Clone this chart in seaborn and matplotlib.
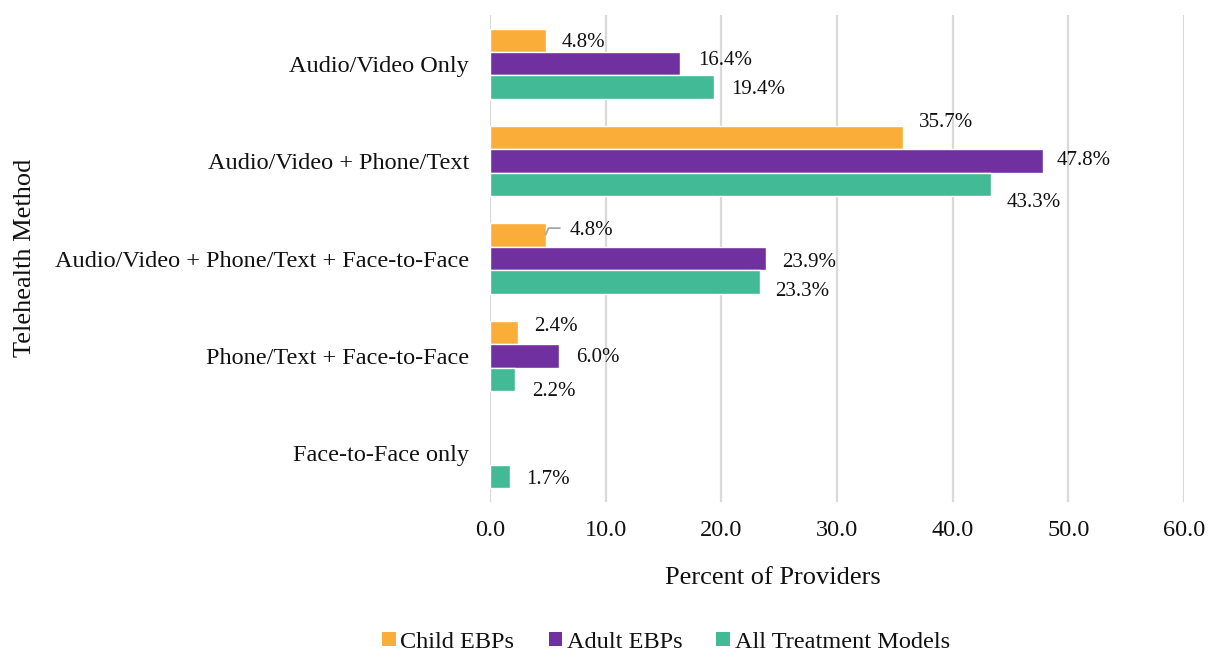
import matplotlib
matplotlib.use("Agg")
import matplotlib.pyplot as plt
import seaborn as sns
import pandas as pd
from matplotlib.patches import Patch

categories = ["Audio/Video Only", "Audio/Video + Phone/Text",
              "Audio/Video + Phone/Text + Face-to-Face",
              "Phone/Text + Face-to-Face", "Face-to-Face only"]
series_names = ["Child EBPs", "Adult EBPs", "All Treatment Models"]
child_ebps = [4.8, 35.7, 4.8, 2.4, 0.0]
adult_ebps = [16.4, 47.8, 23.9, 6.0, 0.0]
all_models = [19.4, 43.3, 23.3, 2.2, 1.7]
x_ticks = [0, 10, 20, 30, 40, 50, 60]

colors = ["#FBAD3A", "#7030A0", "#43BA96"]

sns.set_theme(style="white")
plt.rcParams["font.family"] = ["Liberation Serif", "DejaVu Serif"]
plt.rcParams["text.color"] = "#111111"
plt.rcParams["xtick.color"] = "#111111"
plt.rcParams["ytick.color"] = "#111111"
plt.rcParams["axes.labelcolor"] = "#111111"

rows = []
for s, vals in zip(series_names, [child_ebps, adult_ebps, all_models]):
    for c, v in zip(categories, vals):
        rows.append({"Method": c, "Series": s, "Value": v})
df = pd.DataFrame(rows)

W, H = 1208, 654
ax_l, ax_r, ax_t, ax_b = 490, 1184, 15, 502
fig = plt.figure(figsize=(W / 100, H / 100), dpi=100)
ax = fig.add_axes([ax_l / W, 1 - ax_b / H, (ax_r - ax_l) / W, (ax_b - ax_t) / H])

sns.barplot(data=df, y="Method", x="Value", hue="Series", order=categories,
            hue_order=series_names, palette=colors, saturation=1, orient="h",
            width=0.72, edgecolor="white", linewidth=1, ax=ax, legend=False)

ax.set_xlim(0, 60)
ax.set_ylim(len(categories) - 0.5, -0.5)
ax.set_xticks(x_ticks)
ax.set_xticklabels([f"{t:.1f}" for t in x_ticks], fontsize=17.5)
ax.tick_params(axis="y", labelsize=17.5, length=0, pad=15)
ax.tick_params(axis="x", length=0, pad=13)
ax.grid(axis="x", color="#d9d9d9", linewidth=1.6)
ax.set_axisbelow(True)
for sp in ax.spines.values():
    sp.set_visible(False)
ax.set_xlabel("Percent of Providers", fontsize=19, labelpad=20)
ax.xaxis.set_label_coords((773 - ax_l) / (ax_r - ax_l), -(578 - ax_b) / (ax_b - ax_t))
ax.xaxis.label.set_va("center")
ax.set_ylabel("")
fig.text(25 / W, 1 - 258 / H, "Telehealth Method", rotation=90, fontsize=19,
         ha="center", va="center")

# label offsets in pixels (dx, dy) per series per category
offsets = {
    0: [(16, -2), (16, 15), (24, 5), (16, 6), None],
    1: [(18, 3), (14, 1), (16, -4), (17, -2), None],
    2: [(17, -2), (16, -18), (16, -10), (17, -12), (17, -3)],
}
px_x = 60 / (ax_r - ax_l)
px_y = len(categories) / (ax_b - ax_t)
vals_all = [child_ebps, adult_ebps, all_models]
for si, cont in enumerate(ax.containers):
    for ci, patch in enumerate(cont.patches):
        v = vals_all[si][ci]
        if v <= 0:
            patch.set_visible(False)
            continue
        off = offsets[si][ci]
        y = patch.get_y() + patch.get_height() / 2
        x = patch.get_x() + patch.get_width()
        ax.annotate(f"{v:.1f}%", xy=(x, y), xytext=off, textcoords="offset pixels",
                    ha="left", va="center", fontsize=15)
        if si == 0 and ci == 2:
            ax.plot([x, x + 3 * px_x, x + 15 * px_x],
                    [y, y - 7 * px_y, y - 7 * px_y],
                    color="#a6a6a6", lw=1.3, solid_capstyle="butt")

handles = [Patch(facecolor=c, edgecolor="none") for c in colors]
fig.legend(handles, series_names, loc="center", bbox_to_anchor=(666 / W, 1 - 642 / H),
           ncol=3, frameon=False, fontsize=17.5, handlelength=0.55, handleheight=0.55,
           handletextpad=0.2, columnspacing=1.4)

fig.savefig("out.png", dpi=100)
